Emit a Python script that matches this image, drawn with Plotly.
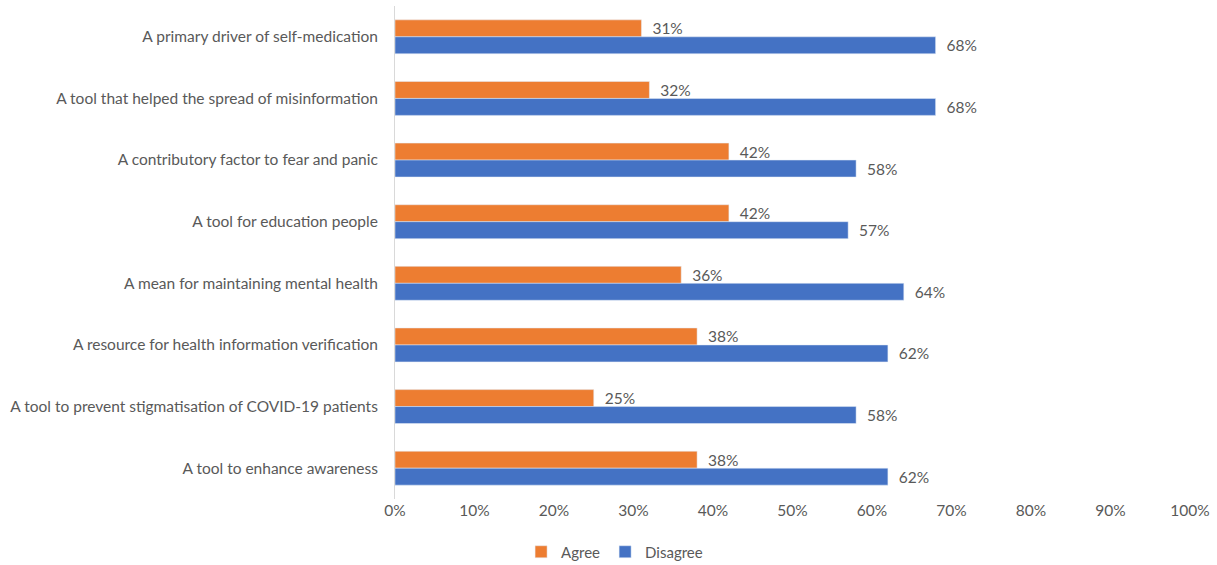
import plotly.graph_objects as go

categories = [
    "A primary driver of self-medication",
    "A tool that helped the spread of misinformation",
    "A contributory factor to fear and panic",
    "A tool for education people",
    "A mean for maintaining mental health",
    "A resource for health information verification",
    "A tool to prevent stigmatisation of COVID-19 patients",
    "A tool to enhance awareness",
]
agree = [31, 32, 42, 42, 36, 38, 25, 38]
disagree = [68, 68, 58, 57, 64, 62, 58, 62]
x_ticks = list(range(0, 101, 10))

FONT = "Lato"
GRAY = "#595959"
PAD = "\u00a0\u00a0"

fig = go.Figure()
fig.add_trace(go.Bar(
    y=categories, x=agree, orientation="h", name="Agree",
    marker=dict(color="#ED7D31"),
    text=[f"{PAD}{v}%" for v in agree], textposition="outside", constraintext="none",
    textfont=dict(color=GRAY, size=15.5, family=FONT), cliponaxis=False,
))
fig.add_trace(go.Bar(
    y=categories, x=disagree, orientation="h", name="Disagree",
    marker=dict(color="#4472C4"),
    text=[f"{PAD}{v}%" for v in disagree], textposition="outside", constraintext="none",
    textfont=dict(color=GRAY, size=15.5, family=FONT), cliponaxis=False,
))

fig.update_layout(
    width=1217, height=565,
    margin=dict(l=395, r=27, t=6, b=66, autoexpand=False),
    barmode="group", bargap=0.45, bargroupgap=0,
    plot_bgcolor="white", paper_bgcolor="white",
    font=dict(family=FONT, size=15, color=GRAY),
    legend=dict(orientation="h", x=0.505, xref="container", xanchor="center",
                y=0.023, yref="container", yanchor="middle",
                font=dict(size=15, color=GRAY), itemwidth=30, traceorder="normal"),
    uniformtext=dict(mode=False),
)
fig.update_xaxes(range=[0, 100], tickvals=x_ticks, ticktext=[f"{v}%" for v in x_ticks],
                 showgrid=False, zeroline=False, showline=False, ticks="",
                 tickfont=dict(size=15.5, color=GRAY), automargin=False)
fig.update_yaxes(autorange="reversed", showgrid=False, showline=True, linecolor="#D9D9D9",
                 linewidth=1, ticks="", ticklabelstandoff=13, automargin=False,
                 tickfont=dict(size=15.5, color=GRAY))

fig.write_html("out.html")
